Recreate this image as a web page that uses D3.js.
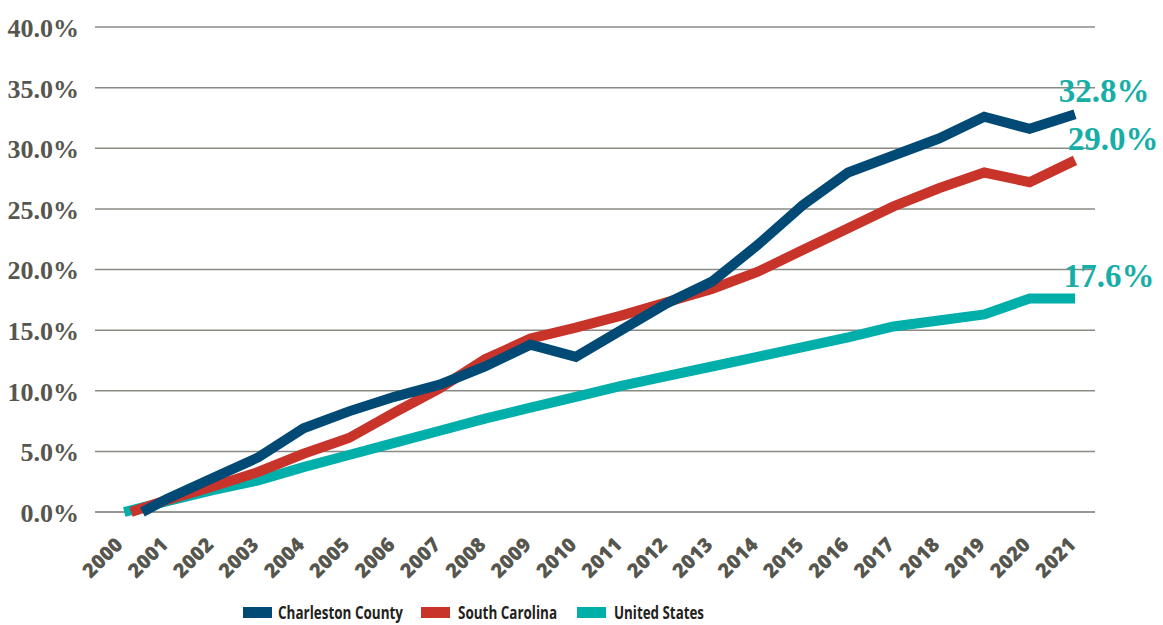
<!DOCTYPE html>
<html>
<head>
<meta charset="utf-8">
<script src="https://cdn.jsdelivr.net/npm/d3@7"></script>
<style>
  html, body { margin: 0; padding: 0; background: #ffffff; }
  svg { display: block; }
</style>
</head>
<body>
<svg id="chart" width="1163" height="625"></svg>
<script>
// ---- data ----
const years = [2000, 2001, 2002, 2003, 2004, 2005, 2006, 2007, 2008, 2009, 2010,
               2011, 2012, 2013, 2014, 2015, 2016, 2017, 2018, 2019, 2020, 2021];
const charleston = [0.0, 1.1, 2.8, 4.5, 6.9, 8.3, 9.5, 10.5, 12.0, 13.8, 12.8,
                    15.0, 17.2, 19.0, 22.0, 25.3, 28.0, 29.4, 30.8, 32.6, 31.6, 32.8];
const southCarolina = [0.0, 1.0, 2.1, 3.3, 4.8, 6.1, 8.2, 10.2, 12.6, 14.3, 15.2,
                       16.2, 17.3, 18.4, 19.8, 21.6, 23.4, 25.2, 26.7, 28.0, 27.2, 29.0];
const unitedStates = [0.0, 0.9, 1.8, 2.6, 3.7, 4.7, 5.7, 6.7, 7.7, 8.6, 9.5,
                      10.4, 11.2, 12.0, 12.8, 13.6, 14.4, 15.3, 15.8, 16.3, 17.6, 17.6];
// first plotted year of each series (lines begin slightly after 2000 in the source)
const firstYears = [2000.45, 2000.2, 2000.05];
const seriesNames = ["Charleston County", "South Carolina", "United States"];
const seriesColors = ["#004a75", "#c9342a", "#00afa9"];
const endLabels = ["32.8%", "29.0%", "17.6%"];
const yTicks = [0, 5, 10, 15, 20, 25, 30, 35, 40];

// ---- chart ----
const svg = d3.select("#chart");

const x = d3.scaleLinear().domain([2000, 2021]).range([122, 1075]);
const y = d3.scaleLinear().domain([0, 40]).range([512, 27]);
const gridX0 = 95, gridX1 = 1095;

// gridlines
const gGrid = svg.append("g");
gGrid.selectAll("line").data(yTicks).join("line")
  .attr("x1", gridX0).attr("x2", gridX1)
  .attr("y1", d => y(d)).attr("y2", d => y(d))
  .attr("stroke", d => d === 0 ? "#74746c" : "#8a8a84")
  .attr("stroke-width", 1.5);

// y-axis labels
const yAxis = d3.axisLeft(y).tickValues(yTicks).tickSize(0).tickPadding(0)
  .tickFormat(d => d3.format(".1f")(d) + "%");
const gy = svg.append("g").attr("transform", "translate(79,0)").call(yAxis);
gy.select(".domain").remove();
gy.selectAll("text")
  .attr("dy", "0.36em")
  .style("font-family", "'Liberation Serif', serif")
  .style("font-weight", "bold")
  .style("font-size", "26px")
  .attr("fill", "#56564e");

// x-axis labels
const xAxis = d3.axisBottom(x).tickValues(years).tickSize(0).tickPadding(0)
  .tickFormat(d3.format("d"));
const gx = svg.append("g").call(xAxis);
gx.select(".domain").remove();
gx.selectAll(".tick").attr("transform", d => `translate(${x(d) + 2},546)`);
gx.selectAll("text")
  .attr("y", 0).attr("dy", 0).attr("x", 0)
  .attr("text-anchor", "end")
  .attr("transform", "rotate(-45)")
  .style("font-family", "'Open Sans', sans-serif")
  .style("font-weight", "800")
  .style("font-size", "20px")
  .attr("fill", "#56564e");

// lines
const allValues = [charleston, southCarolina, unitedStates];
const line = d3.line().x(d => x(d[0])).y(d => y(d[1]));
const order = [2, 1, 0];
order.forEach(i => {
  const pts = years.map((yr, j) => [j === 0 ? firstYears[i] : yr, allValues[i][j]]);
  svg.append("path")
    .datum(pts)
    .attr("d", line)
    .attr("fill", "none")
    .attr("stroke", seriesColors[i])
    .attr("stroke-width", 10)
    .attr("stroke-linejoin", "miter")
    .attr("stroke-linecap", "butt");
});

// end labels
const labelDY = [-12, -10, -12];
const labelDX = [29, 38, 34];
svg.append("g").selectAll("text").data(endLabels).join("text")
  .attr("x", (d, i) => x(2021) + labelDX[i])
  .attr("y", (d, i) => y(allValues[i][allValues[i].length - 1]) + labelDY[i])
  .attr("text-anchor", "middle")
  .style("font-family", "'Liberation Serif', serif")
  .style("font-weight", "bold")
  .style("font-size", "33px")
  .attr("fill", "#17aea7")
  .text(d => d);

// legend
const legendX = [243, 421, 577];
const legendTextW = [125, 99, 90];
const legend = svg.append("g");
const items = legend.selectAll("g").data(seriesNames).join("g")
  .attr("transform", (d, i) => `translate(${legendX[i]},607)`);
items.append("rect")
  .attr("width", 29).attr("height", 11)
  .attr("fill", (d, i) => seriesColors[i]);
items.append("text")
  .attr("x", (d, i) => i === 0 ? 35 : 37).attr("y", 12)
  .attr("textLength", (d, i) => legendTextW[i])
  .attr("lengthAdjust", "spacingAndGlyphs")
  .style("font-family", "'Open Sans', sans-serif")
  .style("font-weight", "bold")
  .style("font-size", "18px")
  .attr("fill", "#231f20")
  .text(d => d);
</script>
</body>
</html>
